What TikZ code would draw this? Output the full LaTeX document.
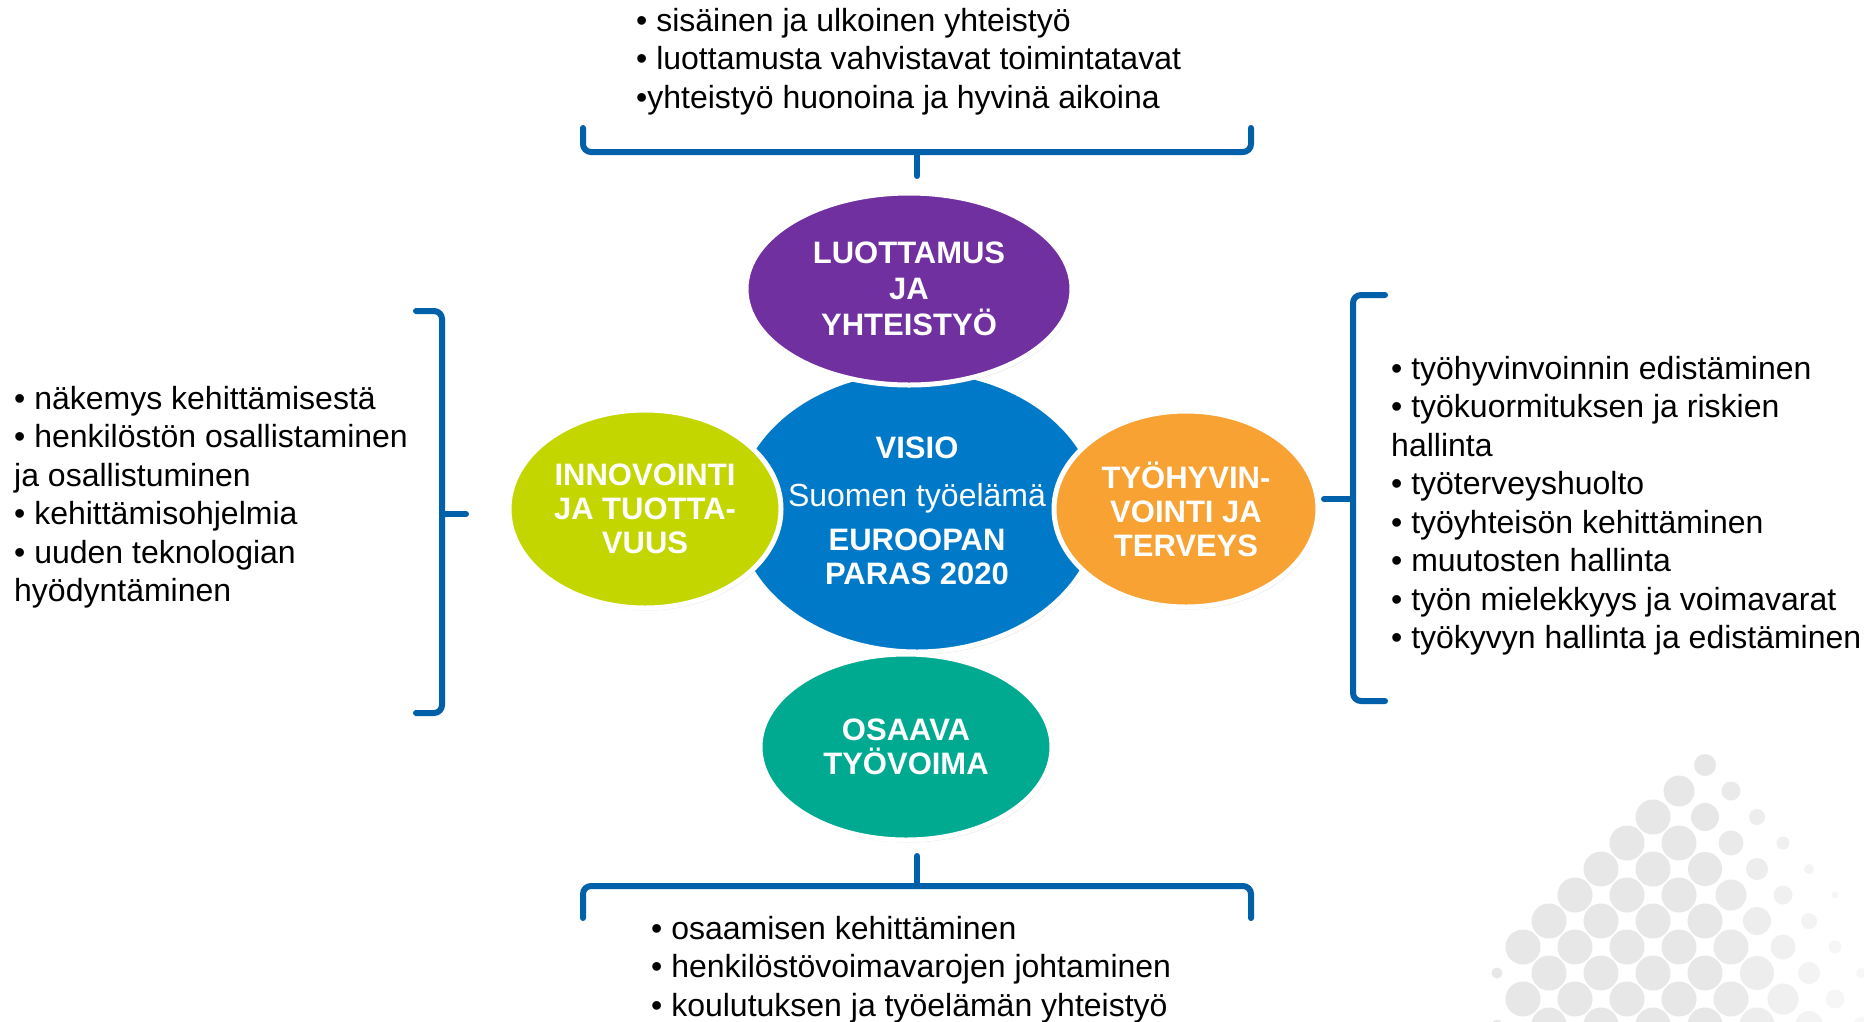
\documentclass[tikz,border=0pt]{standalone}
\usepackage{fontspec}
\setmainfont{Liberation Sans}
\usetikzlibrary{shapes.geometric,shadows}
\definecolor{visioblue}{RGB}{0,121,200}
\definecolor{luottopurple}{RGB}{112,48,160}
\definecolor{innolime}{RGB}{196,214,0}
\definecolor{hyvorange}{RGB}{247,162,51}
\definecolor{osaavateal}{RGB}{0,170,145}
\definecolor{sulkublue}{RGB}{0,97,170}
\definecolor{pistegrey}{RGB}{231,231,231}

\begin{document}
\begin{tikzpicture}[x=1pt,y=-1pt,
  pallo/.style={ellipse,draw=white,line width=5pt,text=white,align=center,inner sep=0pt,
    font=\fontsize{31}{34}\bfseries,
    drop shadow={opacity=0.25,shadow xshift=1.5pt,shadow yshift=-2.5pt}},
  sulku/.style={draw=sulkublue,line width=6pt,rounded corners=8pt,line cap=round},
  lista/.style={font=\fontsize{32}{38.5}\selectfont,align=left,anchor=north west,inner sep=0pt}]

\useasboundingbox[fill=white] (0,0) rectangle (1864,1021);

\begin{scope}
\clip (0,0) rectangle (1864,1021);
\foreach \i in {0,...,12}{
 \foreach \j in {0,...,9}{
  \pgfmathsetmacro\r{min(17.5,11+3*(\i-\j)+1.5*(\i+\j))-12*max(0,\i-\j-7)}
  \pgfmathsetmacro\o{max(0.3,min(1,1-0.13*(\j-\i)))}
  \ifdim\r pt>3pt
   \fill[pistegrey,opacity=\o] (1705+26*\j-26*\i,765+26*\i+26*\j) circle[radius=\r];
  \fi
 }}
\end{scope}

\node[pallo,fill=visioblue,minimum width=352pt,minimum height=282pt] (visio) at (917,511)
  {VISIO\\[14pt]{\mdseries\fontsize{32}{34}\selectfont Suomen työelämä}\\[10pt]EUROOPAN\\PARAS 2020};
\node[pallo,fill=luottopurple,minimum width=326pt,minimum height=192pt,font=\fontsize{31}{36}\bfseries] (luottamus) at (909,289)
  {LUOTTAMUS\\JA\\YHTEISTYÖ};
\node[pallo,fill=innolime,minimum width=272pt,minimum height=198pt] (innovointi) at (645,509)
  {INNOVOINTI\\JA TUOTTA-\\VUUS};
\node[pallo,fill=hyvorange,minimum width=264pt,minimum height=196pt] (hyvinvointi) at (1186,509)
  {TYÖHYVIN-\\VOINTI JA\\TERVEYS};
\node[pallo,fill=osaavateal,minimum width=292pt,minimum height=186pt] (osaava) at (906,747)
  {OSAAVA\\TYÖVOIMA};

\node[lista] (ylalista) at (636,8)
  {• sisäinen ja ulkoinen yhteistyö\\• luottamusta vahvistavat toimintatavat\\•yhteistyö huonoina ja hyvinä aikoina};
\node[lista] (vasenlista) at (14,386)
  {• näkemys kehittämisestä\\• henkilöstön osallistaminen\\ja osallistuminen\\• kehittämisohjelmia\\• uuden teknologian\\hyödyntäminen};
\node[lista] (oikealista) at (1391,356)
  {• työhyvinvoinnin edistäminen\\• työkuormituksen ja riskien\\hallinta\\• työterveyshuolto\\• työyhteisön kehittäminen\\• muutosten hallinta\\• työn mielekkyys ja voimavarat\\• työkyvyn hallinta ja edistäminen};
\node[lista] (alalista) at (651,916)
  {• osaamisen kehittäminen\\• henkilöstövoimavarojen johtaminen\\• koulutuksen ja työelämän yhteistyö};

\draw[sulku] (583,128) -- (583,152) -- (1251,152) -- (1251,128);
\draw[sulku] (917,152) -- (917,176);
\draw[sulku] (583,918) -- (583,886) -- (1251,886) -- (1251,918);
\draw[sulku] (917,886) -- (917,856);
\draw[sulku] (416,311) -- (442,311) -- (442,713) -- (416,713);
\draw[sulku] (442,514) -- (466,514);
\draw[sulku] (1385,295) -- (1353,295) -- (1353,701) -- (1385,701);
\draw[sulku] (1353,499) -- (1324,499);

\end{tikzpicture}
\end{document}
